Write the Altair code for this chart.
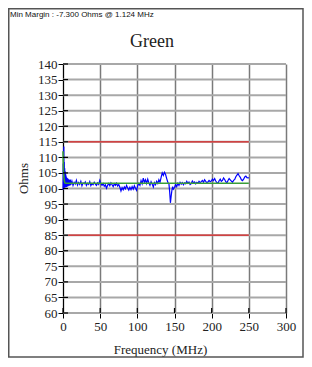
import altair as alt
import pandas as pd

# ---------------- data ----------------
blue_freq = [0.0, 0.3, 0.6, 0.9, 1.124, 1.4, 1.7, 2.0, 2.3, 2.6, 2.9, 3.2, 3.5, 3.8, 4.1, 4.4,
             4.8, 5.2, 5.6, 6.0, 6.5, 7.0, 7.5, 8.0, 8.6, 9.2, 9.8,
             10.5, 12, 13.5, 15, 16.5, 18, 19.5, 21, 22.5, 24, 25.5, 27, 28.5, 30, 31.5, 33,
             34.5, 36, 37.5, 39, 40.5, 42, 43.5, 45, 46.5, 48, 49.5, 51, 52.5, 54, 55.5, 57,
             58.5, 60, 61.5, 63, 64.5, 66, 67.5, 69, 70.5, 72, 73.5, 75, 76.5, 78, 79.5, 81,
             82.5, 84, 85.5, 87, 88.5, 90, 91.5, 93, 94.5, 96, 97.5, 99, 100.5, 102, 103.5,
             105, 106.5, 108, 109.5, 111, 112.5, 114, 115.5, 117, 118.5, 120, 121.5, 123,
             124.5, 126, 127.5, 129, 130.5, 132, 133.5, 135, 136.5, 138, 139.5, 141, 142.5,
             143.5, 144.5, 145.5, 146.5, 147.5, 148.5, 150, 151.5, 153, 154.5, 156, 157.5,
             159, 160.5, 162, 163.5, 165, 166.5, 168, 169.5, 171, 172.5, 174, 175.5, 177,
             178.5, 180, 181.5, 183, 184.5, 186, 187.5, 189, 190.5, 192, 193.5, 195, 196.5,
             198, 199.5, 201, 202.5, 204, 205.5, 207, 208.5, 210, 211.5, 213, 214.5, 216,
             217.5, 219, 220.5, 222, 223.5, 225, 226.5, 228, 229.5, 231, 232.5, 234, 235.5,
             237, 238.5, 240, 241.5, 243, 244.5, 246, 247.5, 249, 250]
blue_ohms = [99.5, 108.0, 100.5, 112.0, 113.5, 100.2, 108.5, 101.0, 106.5, 100.3, 105.5, 100.6,
             104.8, 100.4, 104.2, 100.8, 103.6, 100.5, 103.4, 100.9, 103.2, 100.7, 103.0,
             101.0, 102.8, 100.9, 102.9,
             101.2, 102.4, 101.0, 102.0, 101.4, 102.6, 101.1, 101.9, 101.3, 102.3, 100.9,
             101.8, 101.5, 102.1, 101.0, 101.7, 101.3, 102.2, 100.9, 101.6, 101.2, 102.0,
             101.4, 101.0, 101.8, 101.3, 102.6, 101.5, 101.0, 101.6, 100.7, 101.2, 100.1,
             101.0, 101.6, 100.9, 101.8, 101.2, 100.6, 101.5, 101.0, 101.7, 100.8, 101.3,
             100.4, 99.2, 100.3, 99.6, 100.5, 99.9, 101.0, 100.2, 99.5, 100.4, 99.6, 100.6,
             99.8, 100.9, 100.1, 99.4, 100.9, 101.6, 101.0, 102.5, 101.5, 103.3, 102.0,
             102.8, 101.6, 103.0, 101.8, 101.0, 102.2, 101.4, 100.5, 101.9, 101.2, 102.3,
             101.6, 102.8, 102.0, 103.6, 105.0, 104.2, 105.2, 104.5, 103.2, 102.0, 101.5,
             99.0, 95.4, 97.5, 99.4, 100.6, 99.8, 100.3, 101.3, 100.6, 101.7, 101.0, 102.0,
             101.4, 101.9, 101.2, 101.8, 101.5, 102.3, 101.7, 102.1, 101.3, 101.6, 102.4,
             101.8, 102.1, 101.5, 102.0, 101.7, 102.3, 101.9, 102.2, 102.6, 102.0, 102.8,
             102.3, 101.9, 102.1, 102.6, 102.2, 102.4, 103.0, 102.5, 103.2, 102.4, 101.9,
             101.7, 102.5, 103.0, 102.3, 102.6, 103.4, 102.9, 102.2, 101.8, 102.6, 103.2,
             102.8, 102.4, 102.0, 102.6, 102.9, 103.8, 104.3, 104.8, 104.1, 103.6, 102.8,
             102.5, 103.0, 103.7, 104.0, 103.5, 103.4, 103.5]

green_freq = [0.0, 0.3, 0.6, 1.0, 1.5, 2.0, 2.5, 3.0, 4.0, 250.0]
green_ohms = [112.0, 108.5, 106.0, 104.2, 103.0, 102.3, 101.9, 101.75, 101.7, 101.7]

limit_freq = [7.0, 250.0]
upper_limit = [115.0, 115.0]
lower_limit = [85.0, 85.0]

x_ticks = [0, 50, 100, 150, 200, 250, 300]
y_ticks = [60, 65, 70, 75, 80, 85, 90, 95, 100, 105, 110, 115, 120, 125, 130, 135, 140]

chart_title = "Green"
x_title = "Frequency (MHz)"
y_title = "Ohms"
margin_note = "Min Margin : -7.300 Ohms @ 1.124 MHz"

# ---------------- tables ----------------
df_blue = pd.DataFrame({"freq": blue_freq, "ohms": blue_ohms})
df_green = pd.DataFrame({"freq": green_freq, "ohms": green_ohms})
df_red = pd.DataFrame({
    "freq": limit_freq + limit_freq,
    "ohms": upper_limit + lower_limit,
    "lim": ["upper"] * len(limit_freq) + ["lower"] * len(limit_freq),
})
df_xt = pd.DataFrame({"freq": x_ticks})
df_yt = pd.DataFrame({"ohms": y_ticks})
df_one = pd.DataFrame({"k": [0]})

W, H = 223, 249
PAD = {"left": 55, "top": 56, "right": 18, "bottom": 45}
SERIF = "Liberation Serif"
TXT = "#222222"

x_scale = alt.Scale(domain=[0, 300], nice=False, zero=False)
y_scale = alt.Scale(domain=[60, 140], nice=False, zero=False)

x_axis = alt.Axis(
    values=x_ticks, title=x_title, grid=True, gridColor="#7a7a7a", gridWidth=1.5,
    domainColor="#000000", tickColor="#000000", tickSize=5,
    labelFont=SERIF, labelFontSize=13, labelColor=TXT, labelFlush=False,
    labelPadding=2, labelOverlap=False,
    titleFont=SERIF, titleFontSize=13, titleFontWeight="normal", titleColor=TXT,
    titleX=97, titleY=40, titleBaseline="alphabetic",
)
y_axis = alt.Axis(
    values=y_ticks, title=y_title, grid=False,
    domainColor="#000000", tickColor="#000000", tickSize=5,
    labelFont=SERIF, labelFontSize=13, labelColor=TXT, labelFlush=False,
    labelPadding=1, labelOverlap=False,
    titleFont=SERIF, titleFontSize=13, titleFontWeight="normal", titleColor=TXT,
    titleX=-40, titleY=114, titleAngle=270, titleBaseline="middle",
)

X = alt.X("freq:Q", scale=x_scale, axis=x_axis)
Y = alt.Y("ohms:Q", scale=y_scale, axis=y_axis)

# horizontal grid lines, one per y tick
y_grid = alt.Chart(df_yt).mark_rule(color="#a8a8a8", strokeWidth=2).encode(
    y=Y, x=alt.value(0), x2=alt.value(W),
)
blue = alt.Chart(df_blue).mark_line(color="#0000ff", strokeWidth=1.2).encode(x=X, y=Y)
green = alt.Chart(df_green).mark_line(
    color="#3a9e3a", strokeWidth=1.6, interpolate="monotone").encode(x=X, y=Y)
red = alt.Chart(df_red).mark_line(color="#dd2222", strokeWidth=1.3).encode(
    x=X, y=Y, detail="lim:N")
# inner half of the ticks (the ticks cross the axis lines)
y_inner = alt.Chart(df_yt).mark_rule(color="#000000", strokeWidth=1.2).encode(
    y=Y, x=alt.value(0), x2=alt.value(5),
)
x_inner = alt.Chart(df_xt).mark_rule(color="#000000", strokeWidth=1.2).encode(
    x=X, y=alt.value(H - 5), y2=alt.value(H),
)
title_txt = alt.Chart(df_one).mark_text(
    align="center", baseline="alphabetic", font=SERIF, fontSize=18, color=TXT
).encode(x=alt.value(89), y=alt.value(-17), text=alt.value(chart_title))
frame = alt.Chart(df_one).mark_rect(fill="transparent", stroke="#555555", strokeWidth=1.5).encode(
    x=alt.value(-54.25), x2=alt.value(240), y=alt.value(-55.25), y2=alt.value(H + PAD["bottom"] - 1),
)
note = alt.Chart(df_one).mark_text(
    align="left", baseline="alphabetic", font="Liberation Sans", fontSize=8, color="#111111"
).encode(x=alt.value(-53), y=alt.value(-47), text=alt.value(margin_note))

chart = alt.layer(y_grid, blue, green, red, y_inner, x_inner, title_txt, frame, note).properties(
    width=W, height=H,
    autosize=alt.AutoSizeParams(type="none"),
    padding=PAD,
).configure_view(stroke=None)

chart.save("out.html", embed_options={"renderer": "svg", "actions": False})
